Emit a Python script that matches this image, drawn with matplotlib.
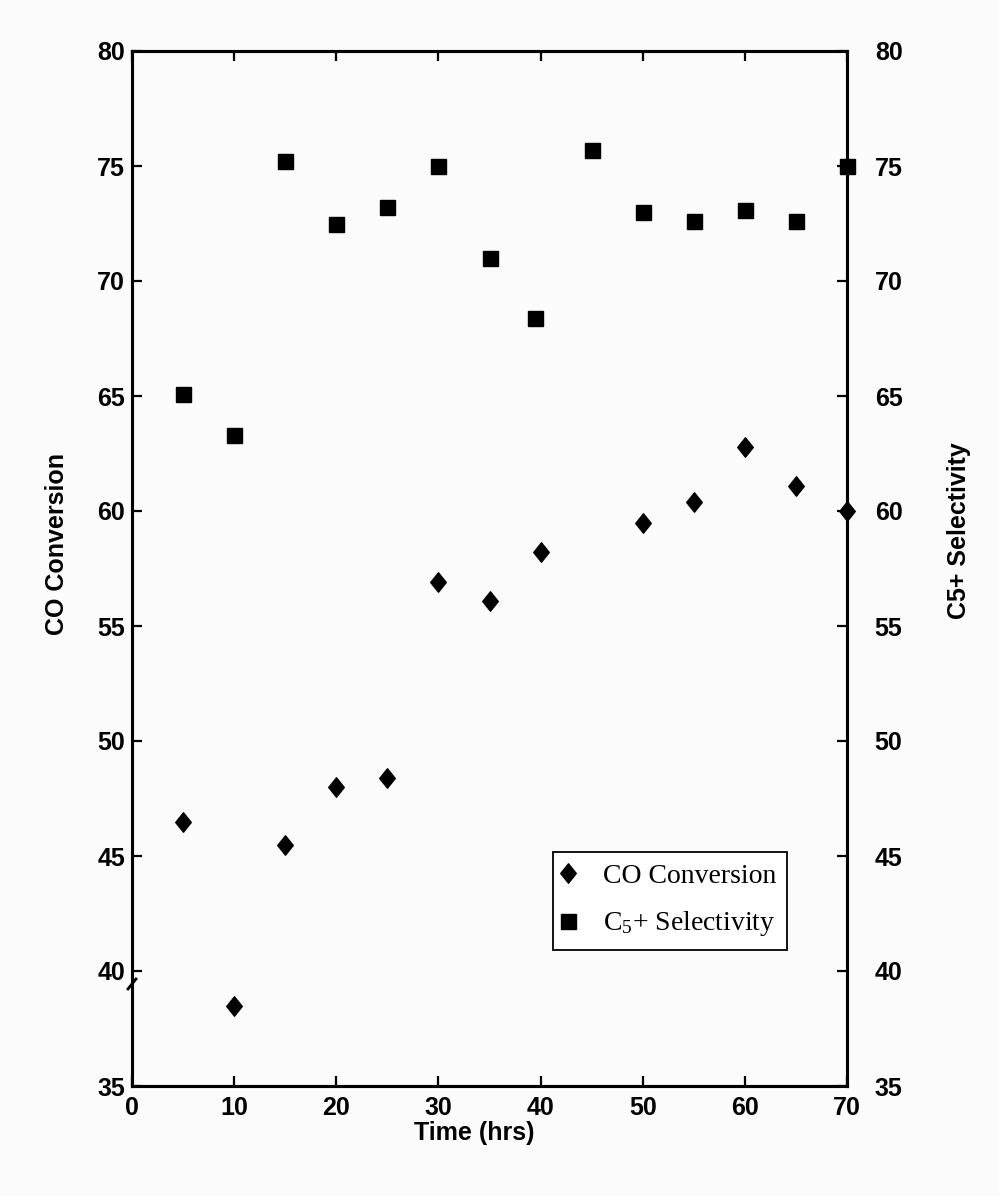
import matplotlib
matplotlib.use("Agg")
import matplotlib.pyplot as plt
from matplotlib.path import Path

# Time on stream (hrs) and measured values
time_co = [5, 10, 15, 20, 25, 30, 35, 40, 50, 55, 60, 65, 70]
co_conversion = [46.5, 38.5, 45.5, 48.0, 48.4, 56.9, 56.1, 58.2, 59.5, 60.4, 62.8, 61.1, 60.0]

time_sel = [5, 10, 15, 20, 25, 30, 35, 39.5, 45, 50, 55, 60, 65, 70]
c5_selectivity = [65.1, 63.3, 75.2, 72.5, 73.2, 75.0, 71.0, 68.4, 75.7, 73.0, 72.6, 73.1, 72.6, 75.0]

x_ticks = [0, 10, 20, 30, 40, 50, 60, 70]
y_ticks = [35, 40, 45, 50, 55, 60, 65, 70, 75, 80]

BG = "#fbfbfb"
plt.rcParams["font.family"] = ["Liberation Sans", "DejaVu Sans"]
plt.rcParams["font.weight"] = "bold"
plt.rcParams["mathtext.fontset"] = "custom"

W, H = 999, 1196
fig = plt.figure(figsize=(W / 100, H / 100), dpi=100, facecolor=BG)
left, right, top, bottom = 132, 847, 51, 1086
ax = fig.add_axes([left / W, 1 - bottom / H, (right - left) / W, (bottom - top) / H])
ax.set_facecolor(BG)
ax2 = ax.twinx()

for a in (ax, ax2):
    a.set_xlim(0, 70)
    a.set_ylim(35, 80)
    a.set_yticks(y_ticks)
    for s in a.spines.values():
        s.set_linewidth(2.2)
        s.set_color("black")

ax.set_xticks(x_ticks)
ax.tick_params(axis="both", direction="in", length=7, width=1.6, labelsize=18, colors="black")
ax.tick_params(axis="x", top=True, pad=7)
ax.tick_params(axis="y", right=False, pad=5)
ax2.tick_params(axis="y", direction="in", length=7, width=1.6, labelsize=18, pad=20, left=False)
for lbl in ax2.get_yticklabels():
    lbl.set_horizontalalignment("left")

# rounded-diamond marker for CO conversion
diamond = Path([(0, 1), (0.8, 0), (0, -1), (-0.8, 0), (0, 1)],
               [Path.MOVETO, Path.LINETO, Path.LINETO, Path.LINETO, Path.CLOSEPOLY])

h_co, = ax.plot(time_co, co_conversion, linestyle="none", marker=diamond, markersize=14,
                color="black", clip_on=False, zorder=5, label="CO Conversion")
h_sel, = ax2.plot(time_sel, c5_selectivity, linestyle="none", marker="s", markersize=10.8,
                  color="black", clip_on=False, zorder=5, label=r"$\mathregular{C_5}$+ Selectivity")

# axis break mark on the left spine
ax.plot([-0.0056, 0.0056], [0.0938, 0.1034], transform=ax.transAxes, color="black",
        lw=2, clip_on=False, zorder=6)

fig.text(474 / W, 1 - 1133 / H, "Time (hrs)", ha="center", va="center", fontsize=18)
fig.text(57 / W, 1 - 544 / H, "CO Conversion", ha="center", va="center", rotation=90, fontsize=18)
fig.text(959 / W, 1 - 531 / H, "C5+ Selectivity", ha="center", va="center", rotation=90, fontsize=18)

leg = ax2.legend(handles=[h_co, h_sel], loc="upper left",
                 bbox_to_anchor=(553 / W, 1 - 852 / H), bbox_transform=fig.transFigure,
                 borderaxespad=0, frameon=True, fancybox=False, edgecolor="black",
                 framealpha=1, facecolor="white", borderpad=0.4, handlelength=0.3,
                 handletextpad=1.1, labelspacing=0.75,
                 prop={"family": ["Liberation Serif", "DejaVu Serif"], "size": 20,
                       "weight": "normal"})
leg.get_frame().set_linewidth(1.3)

fig.savefig("out.png", dpi=100, facecolor=BG)
